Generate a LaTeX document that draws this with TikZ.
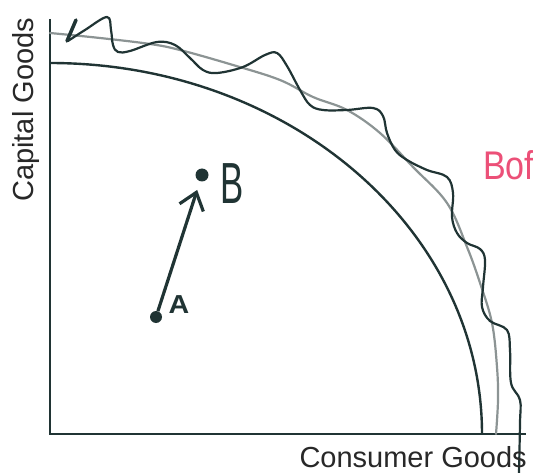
\documentclass[tikz,border=0pt]{standalone}
\usepackage{fontspec}
\setmainfont{Liberation Sans}
\usetikzlibrary{arrows.meta}
\definecolor{ink}{RGB}{32,52,52}
\definecolor{grayline}{RGB}{140,148,148}
\definecolor{pinkink}{RGB}{236,80,120}
\definecolor{textgray}{RGB}{40,40,40}
\begin{document}
\begin{tikzpicture}[x=1pt,y=-1pt,
  axisline/.style={ink,line width=2.6pt},
  ppf/.style={ink,line width=2.4pt},
  newppf/.style={grayline,line width=2.2pt,line join=round,line cap=round},
  wavy/.style={ink,line width=2.2pt,line join=round,line cap=round},
  dot/.style={circle,fill=ink,inner sep=0pt},
  axislabel/.style={text=textgray,font=\fontsize{29}{29}\selectfont,inner sep=0pt}]
\useasboundingbox (0,0) rectangle (533,473);
\fill[white] (0,0) rectangle (533,473);
% axes
\coordinate (ytop) at (50,19);
\coordinate (O) at (50,434);
\coordinate (xend) at (526,434);
\draw[axisline] (ytop) -- (O) -- (xend);
% original PPF
\draw[ppf] (50,63) arc[start angle=-90, end angle=0, x radius=432, y radius=371];
% new PPF (grey)
\draw[newppf] plot[smooth,tension=0.6] coordinates {(50,33) (100,38) (150,44) (180,50) (233,65) (280,80) (313,97) (347,110) (380,133) (413,167) (447,203) (467,247) (480,283) (492,323) (497,367) (498,400) (496,434)};
% wavy hand-drawn PPF
\draw[wavy,line width=3.5pt] (76,20) -- (67,41);
\draw[wavy] plot[smooth,tension=0.6] coordinates {(68,41) (85,30) (107,17) (111,30) (113,45) (118,52) (130,51) (157,42) (175,45) (190,58) (203,70) (217,73) (243,67) (265,55) (277,53) (287,66) (300,90) (310,105) (323,110) (347,110) (373,108) (383,116) (387,133) (395,150) (407,160) (427,170) (447,177) (453,193) (452,217) (457,233) (467,243) (480,249) (485,260) (483,287) (482,307) (490,321) (507,330) (510,350) (511,383) (520,400) (520,423) (519,473)};
% points
\node[dot,minimum size=12pt] (A) at (156,317) {};
\node[dot,minimum size=13pt] (B) at (202,175) {};
\node[text=ink,font=\bfseries\fontsize{26}{26}\selectfont,xscale=1.1,inner sep=0pt] (Alab) at (179,305) {A};
\node[text=ink,font=\fontsize{58}{58}\selectfont,xscale=0.6,inner sep=0pt] (Blab) at (232,184) {B};
\draw[ink,line width=3.2pt,-{Straight Barb[length=16pt,width=25pt]},shorten >=9pt] (A) -- (B);
% labels
\node[axislabel,rotate=90,anchor=base west] (ylab) at (34,202) {Capital Goods};
\node[axislabel,anchor=base east] (xlab) at (527,467) {Consumer Goods};
\node[text=pinkink,font=\fontsize{40}{40}\selectfont,xscale=0.85,anchor=west,inner sep=0pt] (bof) at (483,165) {Bof};
\end{tikzpicture}
\end{document}
